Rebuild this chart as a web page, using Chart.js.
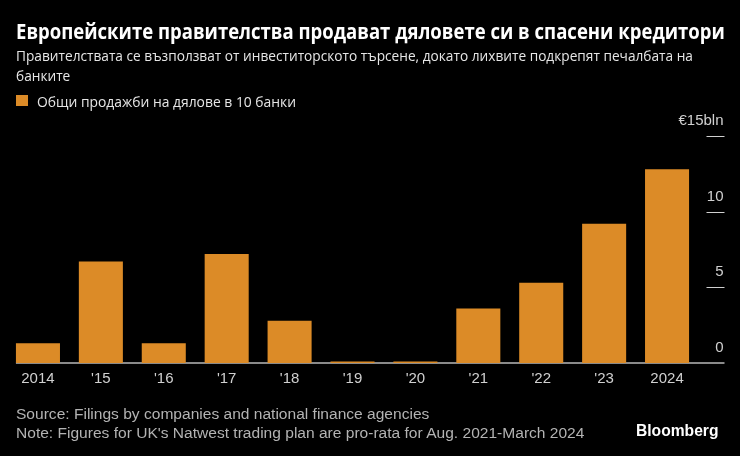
<!DOCTYPE html>
<html>
<head>
<meta charset="utf-8">
<script src="https://cdn.jsdelivr.net/npm/chart.js@4"></script>
<style>
  html, body { margin: 0; padding: 0; background: #000; }
  #wrap { position: relative; width: 740px; height: 456px; overflow: hidden; background: #000; }
  #chart { position: absolute; left: 0; top: 0; }
  .txt { position: absolute; left: 16px; white-space: nowrap; transform-origin: 0 0; }
  #title { top: 16px; color: #fff; font: bold 22px/28px "Open Sans", sans-serif; }
  .sub { color: #e6e6e6; font: 15px/20px "Open Sans", sans-serif; }
  #sub1 { top: 45px; }
  #sub2 { top: 65px; }
  #legend { top: 91px; left: 37px; color: #e6e6e6; font: 15px/20px "Open Sans", sans-serif; }
  #swatch { position: absolute; left: 16px; top: 95px; width: 12px; height: 11px; background: #dc8b27; }
  #source { top: 404px; color: #b3b3b3; font: 15.5px/19px "Liberation Sans", sans-serif; }
  #brand { left: 636px; top: 422px; color: #fff; font: bold 16px "Liberation Sans", sans-serif; }
</style>
</head>
<body>
<div id="wrap">
  <canvas id="chart" width="740" height="456"></canvas>
  <div class="txt" id="title" data-w="709">Европейските правителства продават дяловете си в спасени кредитори</div>
  <div class="txt sub" id="sub1" data-w="677">Правителствата се възползват от инвеститорското търсене, докато лихвите подкрепят печалбата на</div>
  <div class="txt sub" id="sub2">банките</div>
  <div id="swatch"></div>
  <div class="txt" id="legend" data-w="259">Общи продажби на дялове в 10 банки</div>
  <div class="txt" id="source" data-w="568">Source: Filings by companies and national finance agencies<br>Note: Figures for UK's Natwest trading plan are pro-rata for Aug. 2021-March 2024</div>
  <div class="txt" id="brand" data-w="82">Bloomberg</div>
</div>
<script>
const years = ["2014", "'15", "'16", "'17", "'18", "'19", "'20", "'21", "'22", "'23", "2024"];
const sales = [1.3, 6.7, 1.3, 7.2, 2.8, 0.1, 0.1, 3.6, 5.3, 9.2, 12.8];
const yTicks = [0, 5, 10, 15];

const barColor = "#dc8b27";

// squeeze text blocks to the widths of the original (its font is narrower)
document.querySelectorAll("[data-w]").forEach((el) => {
  const s = Number(el.dataset.w) / el.scrollWidth;
  el.style.transform = "scaleX(" + s + ")";
  if (el.id === "sub1") document.getElementById("sub2").style.transform = "scaleX(" + s + ")";
});

// right side axis: labels sit above short tick lines, plus grey baseline
const axisPlugin = {
  id: "axisPlugin",
  beforeDatasetsDraw(chart) {
    const ctx = chart.ctx;
    const area = chart.chartArea;
    const bar = chart.getDatasetMeta(0).data[0];
    const y0 = chart.scales.y.getPixelForValue(0);
    ctx.save();
    ctx.strokeStyle = "#8a8a8a";
    ctx.lineWidth = 2;
    ctx.beginPath();
    ctx.moveTo(bar.x - bar.width / 2, y0);
    ctx.lineTo(area.right + 26, y0);
    ctx.stroke();
    ctx.restore();
  },
  afterDraw(chart) {
    const ctx = chart.ctx;
    const area = chart.chartArea;
    const y = chart.scales.y;
    ctx.save();
    ctx.font = "15px 'Liberation Sans', sans-serif";
    ctx.fillStyle = "#d0d0d0";
    ctx.textAlign = "right";
    ctx.textBaseline = "middle";
    yTicks.forEach((v) => {
      const py = y.getPixelForValue(v);
      if (v !== 0) {
        ctx.strokeStyle = "#d0d0d0";
        ctx.lineWidth = 1;
        ctx.beginPath();
        ctx.moveTo(area.right + 8, Math.round(py) + 0.5);
        ctx.lineTo(area.right + 26, Math.round(py) + 0.5);
        ctx.stroke();
      }
      const label = v === 15 ? "€15bln" : String(v);
      ctx.fillText(label, area.right + 25, py - 15);
    });
    ctx.restore();
  }
};

new Chart(document.getElementById("chart"), {
  type: "bar",
  data: {
    labels: years,
    datasets: [{
      label: "Общи продажби на дялове в 10 банки",
      data: sales,
      backgroundColor: barColor,
      borderWidth: 0,
      barPercentage: 0.7,
      categoryPercentage: 1.0
    }]
  },
  options: {
    responsive: false,
    animation: false,
    layout: { padding: { left: 6.5, right: 41.5, top: 136, bottom: 61 } },
    plugins: { legend: { display: false }, tooltip: { enabled: false } },
    scales: {
      x: {
        grid: { display: false, drawTicks: false },
        border: { display: false },
        ticks: { color: "#d0d0d0", padding: 7, font: { family: "'Liberation Sans', sans-serif", size: 15 } }
      },
      y: {
        display: false,
        min: 0,
        max: 15,
        ticks: { stepSize: 5 }
      }
    }
  },
  plugins: [axisPlugin]
});
</script>
</body>
</html>
